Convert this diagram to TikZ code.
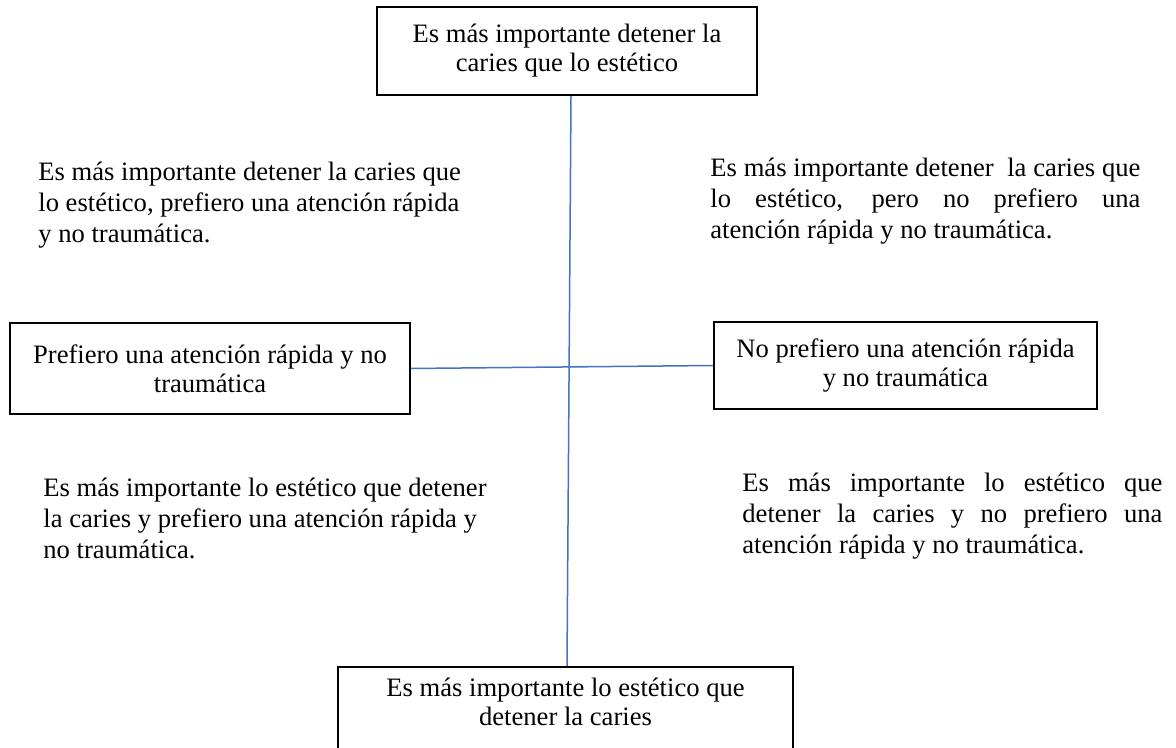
\documentclass[tikz,border=0pt]{standalone}
\usepackage{fontspec}
\setmainfont{Liberation Serif}
\usetikzlibrary{positioning}
\definecolor{ejeazul}{HTML}{4472C4}
\newcommand*{\polofont}{\fontsize{13.3}{14.5}\selectfont}
\newcommand*{\cuadfont}{\fontsize{13.3}{15.5}\selectfont}
\newcommand*{\just}[2]{\makebox[#1][s]{#2}}
\tikzset{
  polo/.style={draw,line width=1pt,align=center,inner sep=0pt,font=\polofont},
  cuadrante/.style={anchor=north west,inner sep=0pt,align=left,font=\cuadfont,
    execute at begin node={\rule{0pt}{11pt}}},
  eje/.style={ejeazul,line width=0.75pt}
}

\begin{document}
\begin{tikzpicture}[x=0.5pt,y=-0.5pt]
\useasboundingbox (0,0) rectangle (1176,748);
% poles
\node[polo,minimum width=190pt,minimum height=44pt] (arriba) at (567,51)
  {Es más importante detener la\\caries que lo estético};
\node[polo,minimum width=200pt,minimum height=45.5pt] (izq) at (210,368.5)
  {Prefiero una atención rápida y no\\traumática};
\node[polo,minimum width=191.5pt,minimum height=43.5pt] (der) at (905.5,365.5)
  {No prefiero una atención rápida\\y no traumática};
\node[polo,anchor=north,minimum width=227.5pt] (abajo) at (565.5,666)
  {\rule{0pt}{14.5pt}Es más importante lo estético que\\detener la caries\rule[-30pt]{0pt}{30pt}};
% axes
\draw[eje] ([xshift=2pt]arriba.south) -- ([xshift=0.75pt]abajo.north);
\draw[eje] (izq.east) -- (der.west);
% quadrants
\node[cuadrante] (sup izq) at (38,162)
  {Es más importante detener la caries que\\lo estético, prefiero una atención rápida\\y no traumática.};
\node[cuadrante] (sup der) at (710,158)
  {\just{215pt}{Es más importante detener\ \ la caries que}\\
   \just{215pt}{lo estético, pero no prefiero una}\\
   atención rápida y no traumática.};
\node[cuadrante] (inf izq) at (43,478)
  {Es más importante lo estético que detener\\la caries y prefiero una atención rápida y\\no traumática.};
\node[cuadrante] (inf der) at (742,473)
  {\just{210pt}{Es más importante lo estético que}\\
   \just{210pt}{detener la caries y no prefiero una}\\
   atención rápida y no traumática.};
\end{tikzpicture}
\end{document}
